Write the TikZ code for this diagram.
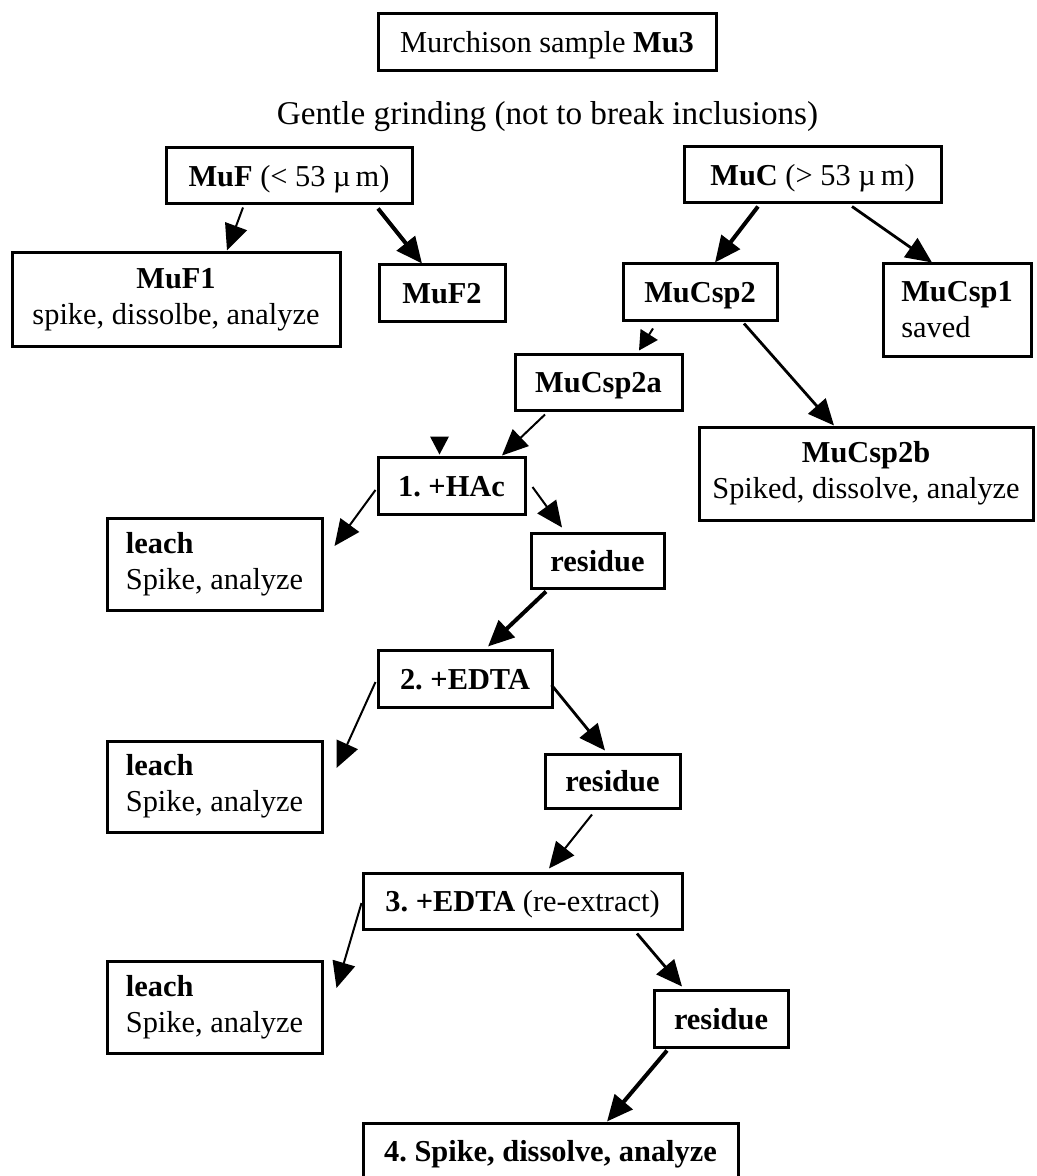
\documentclass[tikz,border=0pt]{standalone}
\usepackage{fontspec}
\setmainfont{Liberation Serif}
\usetikzlibrary{arrows.meta,calc}
\newcommand{\fsz}{\fontsize{15.2pt}{18pt}\selectfont\frenchspacing}
\begin{document}
\begin{tikzpicture}[x=0.5pt,y=-0.5pt,
  box/.style={draw, line width=1.5pt, inner sep=0pt, font=\fsz},
  sl/.style={text height=10.5pt, text depth=0pt},
  tn/.style={-{Triangle[length=13pt,width=11.5pt]}, line width=1pt},
  sh/.style={-{Triangle[length=9.5pt,width=10pt]}, line width=1pt},
  md/.style={-{Triangle[length=13pt,width=11.5pt]}, line width=1.4pt},
  tk/.style={-{Triangle[length=13pt,width=11.5pt]}, line width=2pt}]
\useasboundingbox (0,0) rectangle (1037,1176);
\clip (0,0) rectangle (1037,1176);
\fill[white] (0,0) rectangle (1037,1176);

\node[box, sl, minimum width=169pt, minimum height=28.5pt] (top) at (547,42.5) {Murchison sample \textbf{Mu3}};
\node[font=\fontsize{16.6pt}{19pt}\selectfont, anchor=base, inner sep=0pt] (grind) at (547.5,125) {Gentle grinding (not to break inclusions)};

\node[box, sl, minimum width=123pt, minimum height=28pt] (MuF) at (289,176) {\textbf{MuF} (< 53 µ\,m)};
\node[box, sl, minimum width=128.5pt, minimum height=28pt] (MuC) at (812.5,175) {\textbf{MuC} (> 53 µ\,m)};
\node[box, minimum width=164pt, minimum height=46.5pt, align=center] (MuF1) at (176,299.5) {\textbf{MuF1}\\spike, dissolbe, analyze};
\node[box, sl, minimum width=63pt, minimum height=28.5pt] (MuF2) at (442,293.5) {\textbf{MuF2}};
\node[box, sl, minimum width=77pt, minimum height=28.5pt] (MuCsp2) at (700,292.5) {\textbf{MuCsp2}};
\node[box, minimum width=74pt, minimum height=46pt, align=left] (MuCsp1) at (957,310) {\textbf{MuCsp1}\\saved};
\node[box, sl, minimum width=83.5pt, minimum height=28pt] (MuCsp2a) at (598.5,382) {\textbf{MuCsp2a}};
\node[box, minimum width=167pt, minimum height=46.5pt, align=center] (MuCsp2b) at (866,473.5) {\textbf{MuCsp2b}\\Spiked, dissolve, analyze};

\node[box, sl, minimum width=73.5pt, minimum height=28.5pt] (HAc) at (451.5,485.5) {\textbf{1. +HAc}};
\node[box, minimum width=107.5pt, minimum height=46pt, align=left] (leachA) at (214.5,564) {\textbf{leach}\\Spike, analyze};
\node[box, sl, minimum width=66.5pt, minimum height=27.5pt] (resA) at (597.5,560.5) {\textbf{residue}};

\node[box, sl, minimum width=87pt, minimum height=28.5pt] (EDTAb) at (465,678.5) {\textbf{2. +EDTA}};
\node[box, minimum width=107.5pt, minimum height=45.5pt, align=left] (leachB) at (214.5,786.5) {\textbf{leach}\\Spike, analyze};
\node[box, sl, minimum width=67.5pt, minimum height=27pt] (resB) at (612.5,781) {\textbf{residue}};

\node[box, sl, minimum width=159.5pt, minimum height=28pt] (EDTAc) at (522.5,901) {\textbf{3. +EDTA} (re-extract)};
\node[box, minimum width=107.5pt, minimum height=46pt, align=left] (leachC) at (214.5,1007) {\textbf{leach}\\Spike, analyze};
\node[box, sl, minimum width=67pt, minimum height=28.5pt] (resC) at (721,1018.5) {\textbf{residue}};

\node[box, sl, minimum width=187.5pt, minimum height=28pt] (fin) at (550.5,1151) {\textbf{4. Spike, dissolve, analyze}};

% free ends
\coordinate (eA) at ($(leachA.east)+(11,-18)$);
\coordinate (eB) at ($(leachB.east)+(13,-18.5)$);
\coordinate (eC) at ($(leachC.east)+(13,-19)$);

% connectors
\draw[tn] ($(MuF.south)+(-46,2)$) -- ($(MuF1.north)+(51,-1)$);
\draw[tk] ($(MuF.south)+(89,3)$) -- ($(MuF2.north)+(-20,0)$);
\draw[tk] ($(MuC.south)+(-54.5,2)$) -- ($(MuCsp2.north)+(15,0)$);
\draw[md] ($(MuC.south)+(39.5,2)$) -- ($(MuCsp1.north)+(-25,0)$);
\draw[sh] ($(MuCsp2.south)+(-47,6)$) -- ($(MuCsp2a.north)+(40.5,-2)$);
\draw[md] ($(MuCsp2.south)+(44,1)$) -- ($(MuCsp2b.north)+(-32,0)$);
\draw[tn] ($(MuCsp2a.south)+(-53.5,3)$) -- ($(HAc.north)+(50.5,0)$);
\fill ($(HAc.north)+(-12,-1)$) -- ++(-9.5,-18) -- ++(19,0) -- cycle;
\draw[tn] ($(HAc.west)+(-1,4.5)$) -- (eA);
\draw[tn] ($(HAc.east)+(6,1.5)$) -- ($(resA.north)+(-35.5,-4)$);
\draw[tk] ($(resA.south)+(-51.5,2)$) -- ($(EDTAb.north)+(23,-2)$);
\draw[tn] ($(EDTAb.west)+(-1,3.5)$) -- (eB);
\draw[md] ($(EDTAb.east)+(-2,6.5)$) -- ($(resB.north)+(-7.5,-2)$);
\draw[tn] ($(resB.south)+(-20.5,5)$) -- ($(EDTAc.north)+(26.5,-3)$);
\draw[tn] ($(EDTAc.west)+(0,2)$) -- (eC);
\draw[md] ($(EDTAc.south)+(114.5,3)$) -- ($(resC.north)+(-39,-2)$);
\draw[tk] ($(resC.south)+(-54,2)$) -- ($(fin.north)+(56.5,0)$);
\end{tikzpicture}
\end{document}
